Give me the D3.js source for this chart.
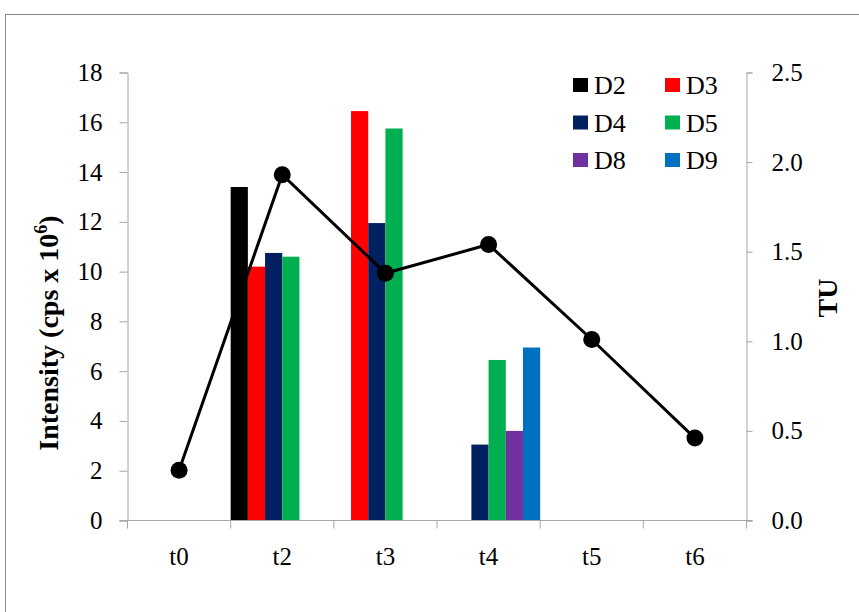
<!DOCTYPE html>
<html>
<head>
<meta charset="utf-8">
<script src="https://cdn.jsdelivr.net/npm/d3@7"></script>
<style>
  html, body { margin: 0; padding: 0; background: #fff; }
  svg { display: block; }
  svg text { font-family: "Liberation Serif", Tinos, "Times New Roman", "Nimbus Roman", "DejaVu Serif", serif; fill: #000; }
</style>
</head>
<body>
<svg id="chart" width="859" height="612"></svg>
<script>
// Sampling times
const categories = ["t0", "t2", "t3", "t4", "t5", "t6"];

// Intensity per compound (cps x 10^6); null = not detected
const seriesNames = ["D2", "D3", "D4", "D5", "D8", "D9"];
const D2 = [null, 13.4, null, null, null, null];
const D3 = [null, 10.2, 16.45, null, null, null];
const D4 = [null, 10.75, 11.95, 3.05, null, null];
const D5 = [null, 10.6, 15.75, 6.45, null, null];
const D8 = [null, null, null, 3.6, null, null];
const D9 = [null, null, null, 6.95, null, null];
const seriesColors = ["#000000", "#ff0000", "#002060", "#00b050", "#7030a0", "#0070c0"];

// Toxic units (right axis)
const tu = [0.28, 1.93, 1.38, 1.54, 1.01, 0.46];

// Axis ticks
const leftTicks = [0, 2, 4, 6, 8, 10, 12, 14, 16, 18];
const rightTicks = [0, 0.5, 1.0, 1.5, 2.0, 2.5];

const seriesValues = [D2, D3, D4, D5, D8, D9];

const svg = d3.select("#chart");
const plot = { left: 127.5, right: 746.5, top: 72.5, bottom: 520.5 };
const axisColor = "#a6a6a6";
const serif = "'Liberation Serif', Tinos, 'Times New Roman', 'Nimbus Roman', 'DejaVu Serif', serif";

// Outer chart frame
svg.append("rect")
  .attr("x", 5.5).attr("y", 14.5)
  .attr("width", 900).attr("height", 700)
  .attr("fill", "none").attr("stroke", "#898989").attr("stroke-width", 1);

const x = d3.scaleBand().domain(categories).range([plot.left, plot.right]).padding(0);
const xs = d3.scaleBand().domain(seriesNames).range([0, x.bandwidth()]).padding(0);
const yL = d3.scaleLinear().domain([0, 18]).range([plot.bottom, plot.top]);
const yR = d3.scaleLinear().domain([0, 2.5]).range([plot.bottom, plot.top]);

// Bars
const barData = [];
seriesNames.forEach((s, si) => {
  seriesValues[si].forEach((v, ci) => {
    if (v != null) barData.push({ cat: categories[ci], series: s, value: v, color: seriesColors[si] });
  });
});
svg.append("g").selectAll("rect").data(barData).join("rect")
  .attr("x", d => x(d.cat) + xs(d.series))
  .attr("y", d => yL(d.value))
  .attr("width", xs.bandwidth())
  .attr("height", d => yL(0) - yL(d.value))
  .attr("fill", d => d.color);

// Left axis
const gL = svg.append("g").attr("transform", `translate(${plot.left},0)`)
  .call(d3.axisLeft(yL).tickValues(leftTicks).tickSize(8).tickPadding(17).tickFormat(d3.format("d")));
// Right axis
const gR = svg.append("g").attr("transform", `translate(${plot.right},0)`)
  .call(d3.axisRight(yR).tickValues(rightTicks).tickSize(6).tickPadding(19).tickFormat(d3.format(".1f")));
// Bottom axis with ticks at category boundaries
const boundaries = d3.range(categories.length + 1).map(i => plot.left + i * x.bandwidth());
const gB = svg.append("g").attr("transform", `translate(0,${plot.bottom})`);
gB.append("line").attr("x1", plot.left - 8).attr("x2", plot.right + 6).attr("y1", 0).attr("y2", 0)
  .attr("stroke", axisColor);
gB.selectAll("line.tk").data(boundaries).join("line").attr("class", "tk")
  .attr("x1", d => d).attr("x2", d => d).attr("y1", 0).attr("y2", 8).attr("stroke", axisColor);
gB.selectAll("text").data(categories).join("text")
  .attr("x", d => x(d) + x.bandwidth() / 2)
  .attr("y", 44)
  .attr("text-anchor", "middle")
  .style("font-family", serif)
  .style("font-size", "25px")
  .text(d => d);

[gL, gR].forEach(g => {
  g.attr("font-family", null);
  g.select(".domain").attr("stroke", axisColor);
  g.selectAll(".tick line").attr("stroke", axisColor);
  g.selectAll(".tick text").style("font-size", "25px").style("font-family", serif).attr("fill", "#000");
});

// TU line with markers
const line = d3.line().x((d, i) => x(categories[i]) + x.bandwidth() / 2).y(d => yR(d));
svg.append("path").datum(tu).attr("d", line)
  .attr("fill", "none").attr("stroke", "#000").attr("stroke-width", 3);
svg.append("g").selectAll("circle").data(tu).join("circle")
  .attr("cx", (d, i) => x(categories[i]) + x.bandwidth() / 2)
  .attr("cy", d => yR(d))
  .attr("r", 8.5)
  .attr("fill", "#000");

// Axis titles
const lt = svg.append("text")
  .attr("transform", "translate(58,333) rotate(-90)")
  .attr("text-anchor", "middle")
  .style("font-family", serif)
  .style("font-size", "28px").style("font-weight", "bold");
lt.append("tspan").text("Intensity (cps x 10");
lt.append("tspan").attr("dy", -11).style("font-size", "18px").text("6");
lt.append("tspan").attr("dy", 11).text(")");

svg.append("text")
  .attr("transform", "translate(837,298) rotate(-90)")
  .attr("text-anchor", "middle")
  .style("font-family", serif)
  .style("font-size", "28px").style("font-weight", "bold")
  .text("TU");

// Legend (two columns, three rows)
const legend = svg.append("g");
seriesNames.forEach((s, i) => {
  const col = i % 2, row = Math.floor(i / 2);
  const lx = 573 + col * 92, ly = 85 + row * 37.5;
  legend.append("rect").attr("x", lx).attr("y", ly - 7).attr("width", 15).attr("height", 14)
    .attr("fill", seriesColors[i]);
  legend.append("text").attr("x", lx + 21).attr("y", ly + 9)
    .style("font-family", serif)
    .style("font-size", "26px").text(s);
});
</script>
</body>
</html>
